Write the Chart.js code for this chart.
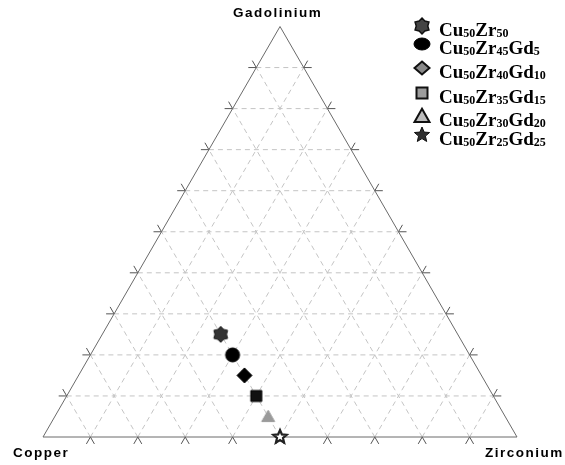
<!DOCTYPE html>
<html>
<head>
<meta charset="utf-8">
<script src="https://cdn.jsdelivr.net/npm/chart.js@4/dist/chart.umd.min.js"></script>
<style>
  html, body { margin: 0; padding: 0; background: #ffffff; }
  canvas { display: block; }
</style>
</head>
<body>
<canvas id="ternary" width="565" height="465"></canvas>
<script>
// Ternary diagram Cu–Zr–Gd: corner names, grid levels (at.%), alloy series.
const vertexNames = ['Copper', 'Zirconium', 'Gadolinium'];
const gridLevels = [10, 20, 30, 40, 50, 60, 70, 80, 90];
const alloyNames = ['Cu50Zr50', 'Cu50Zr45Gd5', 'Cu50Zr40Gd10', 'Cu50Zr35Gd15', 'Cu50Zr30Gd20', 'Cu50Zr25Gd25'];
const copper     = [50, 50, 50, 50, 50, 50];
const zirconium  = [25, 30, 35, 40, 45, 50];
const gadolinium = [25, 20, 15, 10,  5,  0];
const markerKinds = ['hexstar', 'circle', 'diamond', 'square', 'triangle', 'star'];

const SQ3_2 = Math.sqrt(3) / 2;

// barycentric (Cu, Zr, Gd) -> cartesian in the unit-side triangle
function toXY(cu, zr, gd) {
  const t = cu + zr + gd;
  return { x: (zr + gd / 2) / t, y: (gd / t) * SQ3_2 };
}

// marker appearance in the plot and in the key
const plotStyle = {
  hexstar:  { r: 8,   fill: '#333333', stroke: '#1a1a1a', lw: 1 },
  circle:   { r: 7,   fill: '#000000', stroke: '#000000', lw: 1 },
  diamond:  { r: 7.5, fill: '#000000', stroke: '#000000', lw: 1 },
  square:   { r: 5.5, fill: '#111111', stroke: '#000000', lw: 1 },
  triangle: { r: 6.5, fill: '#9a9a9a', stroke: '#9a9a9a', lw: 1 },
  star:     { r: 7,   fill: '#ffffff', stroke: '#222222', lw: 2.2 }
};
const keyStyle = {
  hexstar:  { r: 8,   fill: '#444444', stroke: '#111111', lw: 1.5 },
  circle:   { r: 8,   ry: 6, fill: '#000000', stroke: '#000000', lw: 1 },
  diamond:  { r: 7.5, ry: 6.5, fill: '#8a8a8a', stroke: '#111111', lw: 2 },
  square:   { r: 5.5, fill: '#9c9c9c', stroke: '#111111', lw: 2 },
  triangle: { r: 7.5, fill: '#bdbdbd', stroke: '#111111', lw: 2 },
  star:     { r: 8,   fill: '#2e2e2e', stroke: '#111111', lw: 1 }
};

function shapePath(ctx, kind, x, y, s) {
  const r = s.r, ry = s.ry || s.r;
  ctx.beginPath();
  if (kind === 'circle') {
    ctx.ellipse(x, y, r, ry, 0, 0, Math.PI * 2);
  } else if (kind === 'diamond') {
    ctx.moveTo(x, y - ry); ctx.lineTo(x + r, y); ctx.lineTo(x, y + ry); ctx.lineTo(x - r, y);
    ctx.closePath();
  } else if (kind === 'square') {
    ctx.rect(x - r, y - r, 2 * r, 2 * r);
  } else if (kind === 'triangle') {
    const h = r * 1.75;
    ctx.moveTo(x, y - h * 0.55); ctx.lineTo(x + r, y + h * 0.45); ctx.lineTo(x - r, y + h * 0.45);
    ctx.closePath();
  } else {
    const n = kind === 'star' ? 5 : 6;
    const inner = kind === 'star' ? r * 0.45 : r * 0.72;
    for (let i = 0; i < 2 * n; i++) {
      const a = -Math.PI / 2 + i * Math.PI / n;
      const rr = i % 2 === 0 ? r : inner;
      const px = x + Math.cos(a) * rr, py = y + Math.sin(a) * rr;
      if (i === 0) ctx.moveTo(px, py); else ctx.lineTo(px, py);
    }
    ctx.closePath();
  }
}

function drawShape(ctx, kind, x, y, s) {
  ctx.save();
  shapePath(ctx, kind, x, y, s);
  ctx.fillStyle = s.fill;
  ctx.fill();
  ctx.lineWidth = s.lw;
  ctx.strokeStyle = s.stroke;
  ctx.lineJoin = 'miter';
  ctx.stroke();
  ctx.restore();
}

function markerCanvas(kind) {
  const s = plotStyle[kind];
  const size = Math.ceil(2 * s.r + 6);
  const c = document.createElement('canvas');
  c.width = size; c.height = size;
  drawShape(c.getContext('2d'), kind, size / 2, size / 2, s);
  return c;
}

const datasets = alloyNames.map((name, i) => ({
  label: name,
  data: [toXY(copper[i], zirconium[i], gadolinium[i])],
  pointStyle: markerCanvas(markerKinds[i]),
  clip: false
}));

// grid, frame and outer ticks of the triangle
const ternaryFrame = {
  id: 'ternaryFrame',
  beforeDatasetsDraw(chart) {
    const ctx = chart.ctx;
    const xs = chart.scales.x, ys = chart.scales.y;
    const px = (cu, zr, gd) => {
      const p = toXY(cu, zr, gd);
      return { x: xs.getPixelForValue(p.x), y: ys.getPixelForValue(p.y) };
    };
    const lines = [];
    gridLevels.forEach(v => {
      const f = v / 100;
      lines.push([px(1 - f, 0, f), px(0, 1 - f, f)]);   // constant Gd
      lines.push([px(f, 1 - f, 0), px(f, 0, 1 - f)]);   // constant Cu
      lines.push([px(1 - f, f, 0), px(0, f, 1 - f)]);   // constant Zr
    });

    ctx.save();
    ctx.lineWidth = 1;
    ctx.strokeStyle = '#c4c4c4';
    ctx.setLineDash([5, 4]);
    lines.forEach(([a, b]) => {
      ctx.beginPath(); ctx.moveTo(a.x, a.y); ctx.lineTo(b.x, b.y); ctx.stroke();
    });
    ctx.setLineDash([]);

    // ticks: grid lines carried past the edge
    const tickLen = 8;
    ctx.strokeStyle = '#555555';
    lines.forEach(([a, b]) => {
      const dx = a.x - b.x, dy = a.y - b.y, d = Math.hypot(dx, dy);
      const ux = dx / d, uy = dy / d;
      ctx.beginPath();
      ctx.moveTo(a.x, a.y); ctx.lineTo(a.x + ux * tickLen, a.y + uy * tickLen);
      ctx.moveTo(b.x, b.y); ctx.lineTo(b.x - ux * tickLen, b.y - uy * tickLen);
      ctx.stroke();
    });

    const A = px(1, 0, 0), B = px(0, 1, 0), C = px(0, 0, 1);
    ctx.strokeStyle = '#6a6a6a';
    ctx.beginPath();
    ctx.moveTo(A.x, A.y); ctx.lineTo(B.x, B.y); ctx.lineTo(C.x, C.y); ctx.closePath();
    ctx.stroke();
    ctx.restore();
  },
  afterDraw(chart) {
    const ctx = chart.ctx;
    ctx.save();
    // corner names
    ctx.fillStyle = '#000000';
    ctx.font = 'bold 13.5px "Liberation Sans", Arial, sans-serif';
    ctx.letterSpacing = '1.5px';
    ctx.textAlign = 'left';
    ctx.textBaseline = 'alphabetic';
    ctx.fillText(vertexNames[0], 13, 457);
    ctx.fillText(vertexNames[1], 485, 457);
    ctx.fillText(vertexNames[2], 233, 17);
    ctx.letterSpacing = '0px';

    // key with subscripted compositions
    const rowY = [26, 44, 68, 93, 116, 135];
    alloyNames.forEach((name, i) => {
      const y = rowY[i];
      drawShape(ctx, markerKinds[i], 422, y, keyStyle[markerKinds[i]]);
      let x = 439;
      const parts = name.match(/[A-Za-z]+|\d+/g);
      parts.forEach(p => {
        const isNum = /^\d/.test(p);
        ctx.font = isNum ? 'bold 12px "Liberation Serif", "Times New Roman", serif'
                         : 'bold 19px "Liberation Serif", "Times New Roman", serif';
        ctx.fillStyle = '#000000';
        ctx.fillText(p, x, isNum ? y + 11 : y + 10);
        x += ctx.measureText(p).width;
      });
    });
    ctx.restore();
  }
};

new Chart(document.getElementById('ternary'), {
  type: 'scatter',
  data: { datasets },
  options: {
    responsive: false,
    animation: false,
    events: [],
    layout: { padding: { left: 43, right: 48, top: 26.5, bottom: 28 } },
    scales: {
      x: { type: 'linear', min: 0, max: 1, display: false },
      y: { type: 'linear', min: 0, max: SQ3_2, display: false }
    },
    plugins: { legend: { display: false }, tooltip: { enabled: false } }
  },
  plugins: [ternaryFrame]
});
</script>
</body>
</html>
